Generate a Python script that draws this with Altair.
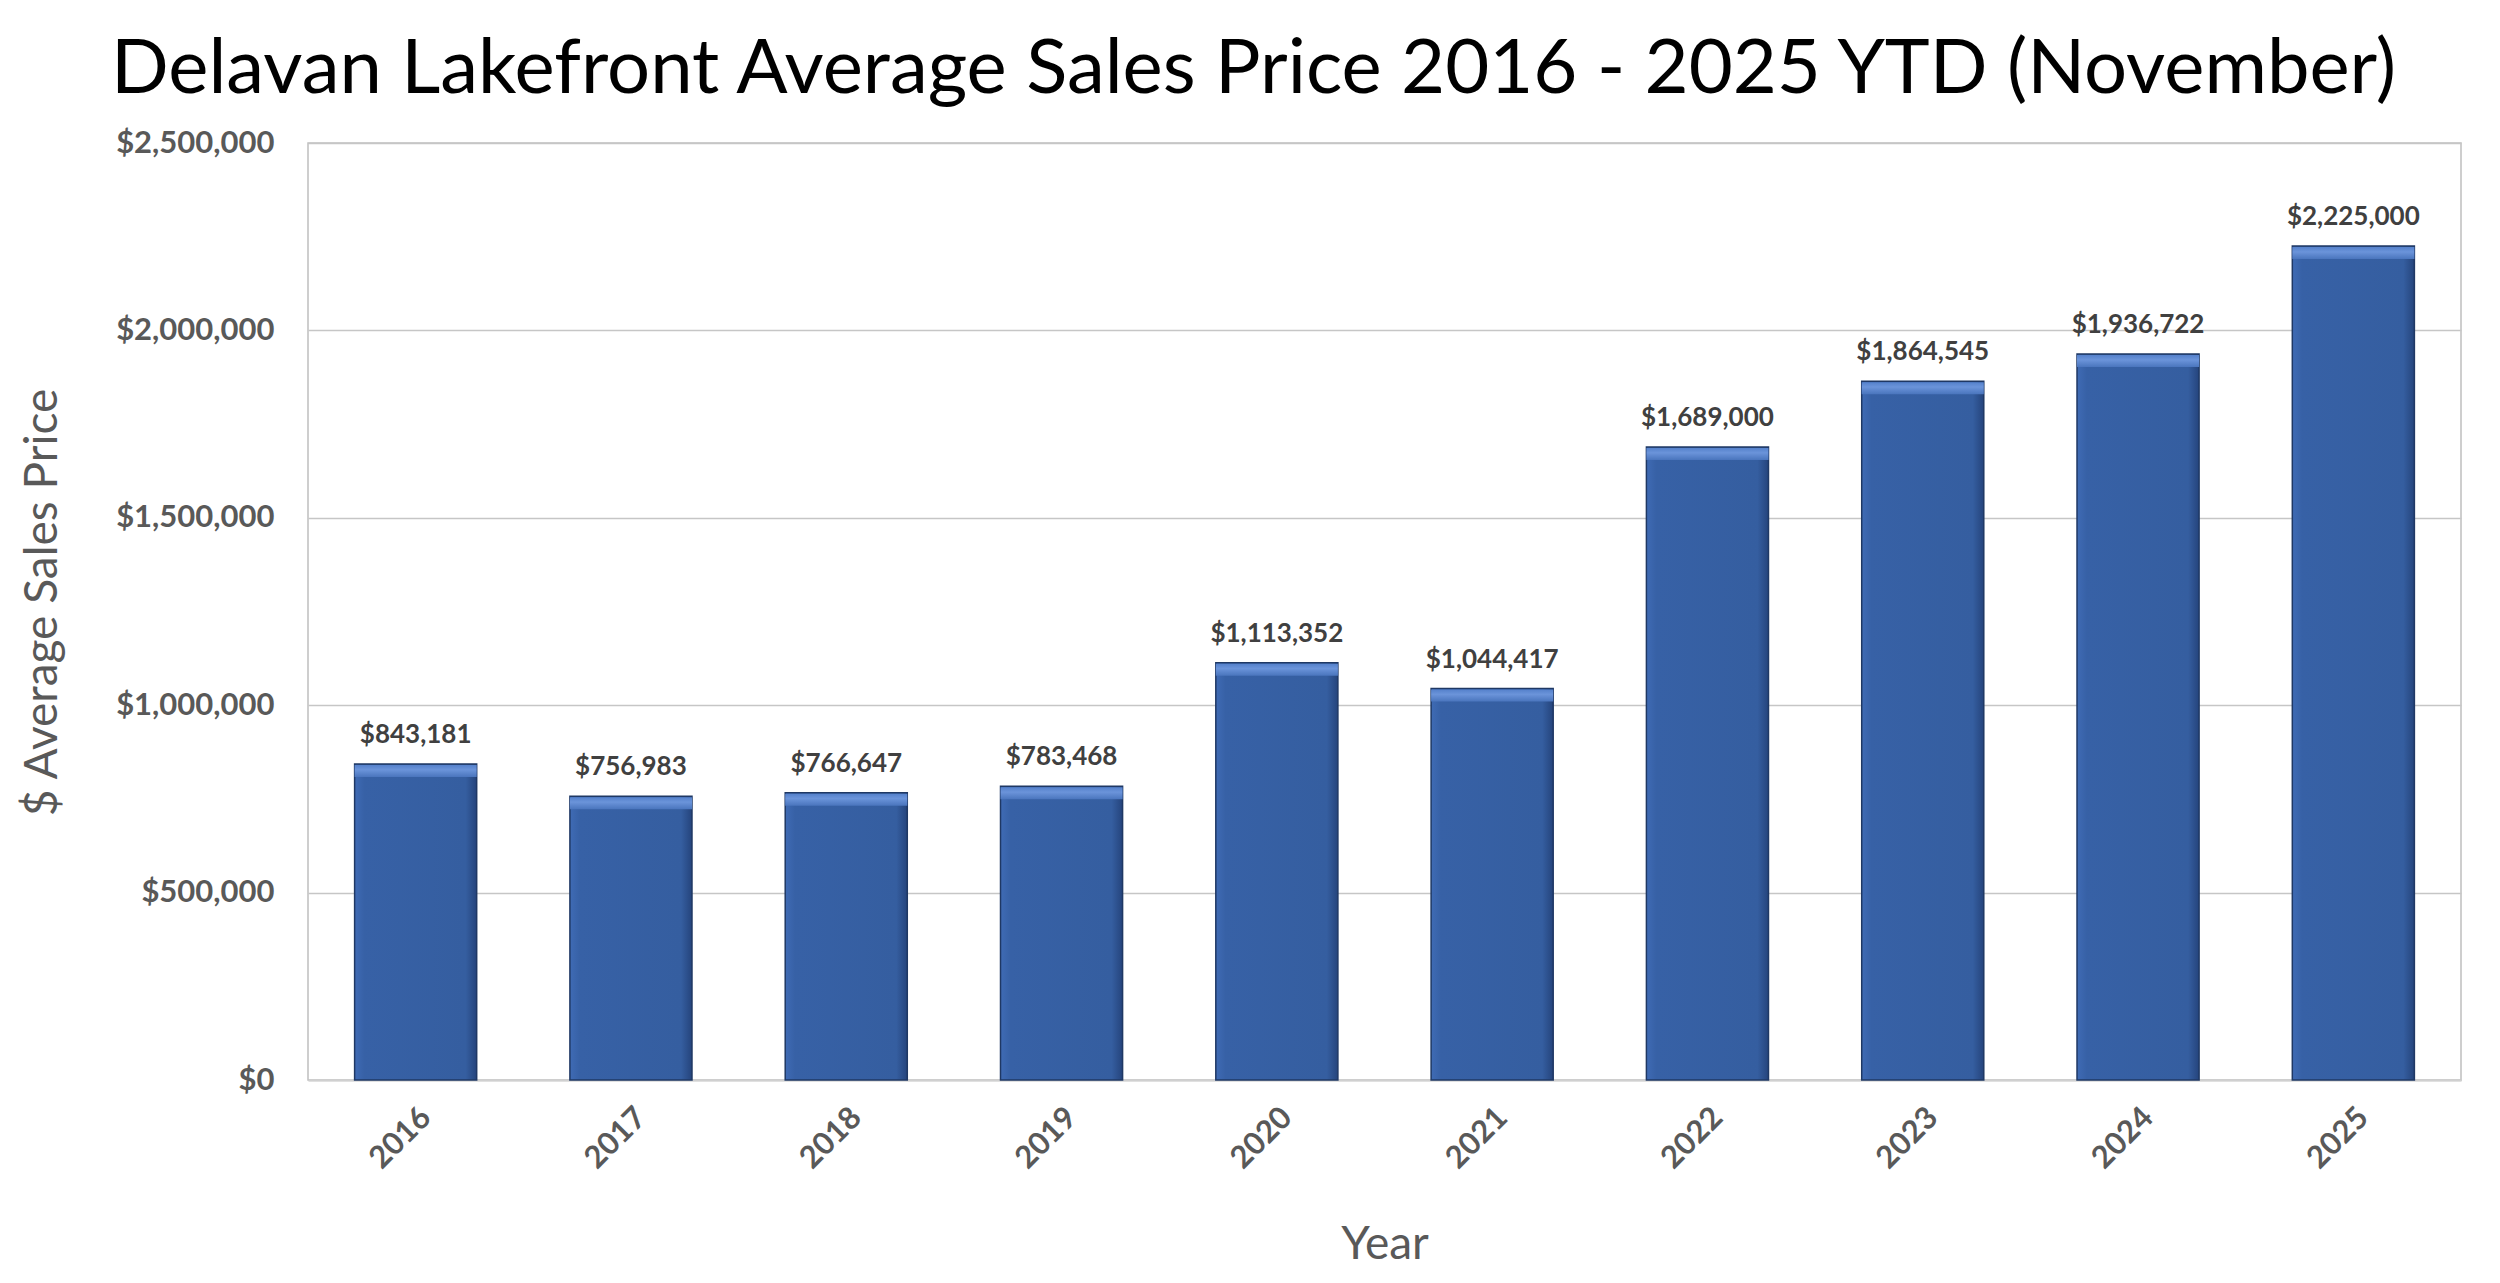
import altair as alt
import pandas as pd

years = ["2016", "2017", "2018", "2019", "2020", "2021", "2022", "2023", "2024", "2025"]
prices = [843181, 756983, 766647, 783468, 1113352, 1044417, 1689000, 1864545, 1936722, 2225000]
y_ticks = [0, 500000, 1000000, 1500000, 2000000, 2500000]

df = pd.DataFrame({"year": years, "price": prices})

FONT = "Lato"
GRAY = "#595959"

x_enc = alt.X(
    "year:N",
    sort=years,
    scale=alt.Scale(paddingInner=0.433, paddingOuter=0.2165),
    axis=alt.Axis(
        title="Year",
        labelAngle=-45,
        labelFont=FONT,
        labelFontSize=31,
        labelFontWeight="bold",
        labelColor=GRAY,
        labelPadding=22,
        ticks=False,
        domainColor="#d0d0d0",
        domainWidth=2,
        grid=False,
        titleFont=FONT,
        titleFontSize=46,
        titleFontWeight="normal",
        titleColor=GRAY,
        titleY=164,
        titleBaseline="middle",
    ),
)
y_enc = alt.Y(
    "price:Q",
    scale=alt.Scale(domain=[0, 2500000], nice=False),
    axis=alt.Axis(
        title="$ Average Sales Price",
        values=y_ticks,
        format="$,.0f",
        labelFont=FONT,
        labelFontSize=31,
        labelFontWeight="bold",
        labelColor=GRAY,
        labelPadding=34,
        ticks=False,
        domain=False,
        gridColor="#c6c6c6",
        gridWidth=1.5,
        titleFont=FONT,
        titleFontSize=46,
        titleFontWeight="normal",
        titleColor=GRAY,
        titleX=-266,
        titleY=459,
        titleBaseline="middle",
    ),
)

body_fill = alt.Gradient(
    gradient="linear",
    x1=0, x2=1, y1=0, y2=0,
    stops=[
        alt.GradientStop(color="#3f6bb5", offset=0),
        alt.GradientStop(color="#3761a6", offset=0.08),
        alt.GradientStop(color="#355ea0", offset=0.91),
        alt.GradientStop(color="#25447c", offset=1),
    ],
)
bevel_fill = alt.Gradient(
    gradient="linear",
    x1=0, x2=0, y1=0, y2=1,
    stops=[
        alt.GradientStop(color="#5581cb", offset=0),
        alt.GradientStop(color="#6b94da", offset=0.4),
        alt.GradientStop(color="#4a75bd", offset=1),
    ],
)

bars = alt.Chart().mark_bar(
    fill=body_fill, stroke="#1f3864", strokeWidth=1.5
).encode(x=x_enc, y=y_enc, y2=alt.datum(0))

bevel = alt.Chart().mark_bar(
    fill=bevel_fill, y2Offset=13, yOffset=1, strokeWidth=0
).encode(x=x_enc, y=y_enc, y2="price:Q")

labels = alt.Chart().mark_text(
    dy=-21, baseline="alphabetic", font=FONT, fontSize=26,
    fontWeight="bold", color="#404040"
).encode(x=x_enc, y=y_enc, text=alt.Text("price:Q", format="$,.0f"))

chart = alt.layer(bars, bevel, labels, data=df).properties(
    width=2153,
    height=937,
    title=alt.TitleParams(
        "Delavan Lakefront Average Sales Price 2016 - 2025 YTD (November)",
        font=FONT,
        fontSize=76,
        fontWeight="normal",
        color="black",
        anchor="middle",
        frame="group",
        offset=18,
        dx=-131,
    ),
    autosize=alt.AutoSizeParams(type="none"),
    padding={"left": 300, "top": 135, "right": 31, "bottom": 195},
    background="white",
).configure_view(stroke="#bfbfbf", strokeWidth=1.5)

chart.save("out.html", embed_options={"renderer": "svg", "actions": False})
